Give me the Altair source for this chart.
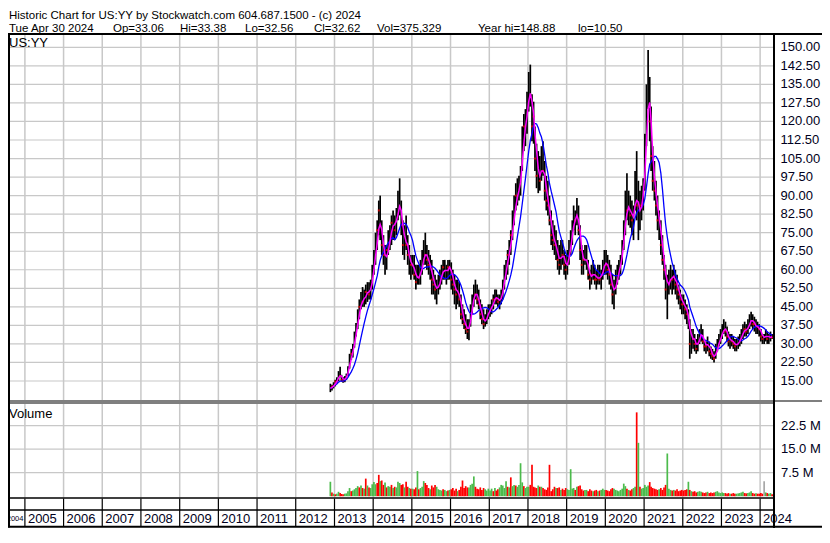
import altair as alt
import pandas as pd

# ---------------- data ----------------
# semi-monthly bars: (high, low, close)
P2012 = [(13.9, 10.5, 12.0), (13.5, 11.2, 12.8), (14.5, 12.0, 13.8)]
P2013 = [(15.5, 12.8, 14.8), (16.5, 14.0, 15.5), (19.0, 15.0, 18.5), (20.8, 16.5, 17.0),
         (17.5, 14.8, 15.5), (16.5, 14.3, 15.0), (17.0, 14.5, 16.5), (18.0, 15.5, 17.5),
         (21.0, 17.0, 20.5), (26.0, 20.0, 25.0), (28.0, 23.5, 26.0), (30.0, 24.5, 29.0),
         (35.0, 28.5, 34.0), (38.5, 33.0, 37.5), (44.0, 36.0, 42.0), (48.0, 40.0, 45.0),
         (51.0, 44.0, 49.0), (53.0, 45.0, 47.0), (52.0, 45.0, 49.0), (54.0, 46.0, 51.0),
         (55.0, 47.0, 52.0), (55.0, 48.0, 50.0), (56.0, 48.0, 54.0), (62.0, 52.0, 60.0)]
P2014 = [(68, 58, 66), (75, 62, 70), (80, 68, 76), (88, 74, 84), (90, 72, 75), (80, 66, 70),
         (74, 62, 66), (70, 58, 62), (70, 60, 68), (76, 66, 72), (78, 68, 74), (82, 70, 79),
         (84, 72, 80), (82, 72, 76), (85, 74, 83), (92, 80, 88), (97, 82, 86), (88, 74, 78),
         (80, 66, 70), (78, 64, 74), (82, 68, 70), (74, 62, 66), (70, 58, 62), (66, 56, 62)]
P2015 = [(66, 58, 62), (66, 56, 58), (62, 52, 55), (62, 54, 58), (62, 54, 57), (64, 54, 60),
         (68, 58, 64), (72, 62, 68), (75, 62, 66), (70, 60, 64), (68, 58, 62), (66, 56, 60),
         (64, 50, 56), (60, 50, 54), (58, 48, 52), (56, 46, 52), (58, 50, 55), (60, 52, 56),
         (62, 54, 60), (64, 56, 61), (64, 56, 58), (62, 54, 60), (64, 56, 61), (64, 56, 62)]
P2016 = [(63, 52, 56), (60, 50, 54), (58, 46, 52), (56, 44, 50), (56, 46, 52), (55, 45, 48),
         (50, 40, 42), (46, 38, 40), (44, 36, 38), (42, 34, 36), (40, 32, 35), (40, 31.5, 38),
         (46, 37, 44), (50, 42, 48), (54, 45, 52), (56, 48, 50), (54, 46, 48), (52, 44, 46),
         (48, 40, 42), (46, 38, 40), (44, 36, 38), (42, 37, 40), (44, 38, 42), (46, 40, 44)]
P2017 = [(46, 41, 44), (48, 42, 46), (50, 44, 48), (52, 46, 50), (52, 46, 48), (50, 45, 47),
         (50, 44, 48), (52, 46, 50), (56, 48, 54), (62, 52, 60), (64, 56, 62), (68, 58, 66),
         (72, 62, 70), (76, 66, 74), (84, 72, 80), (90, 78, 86), (95, 84, 90), (97, 86, 92),
         (98, 88, 94), (102, 90, 100), (118, 100, 115), (123, 108, 118), (125, 110, 120), (132, 115, 128)]
P2018 = [(140, 124, 136), (143, 126, 130), (131, 112, 118), (128, 111, 122), (118, 100, 105), (111, 93, 98),
         (108, 91, 100), (106, 92, 96), (110, 96, 104), (112, 98, 100), (104, 88, 92), (98, 84, 88),
         (96, 82, 86), (90, 78, 80), (84, 70, 74), (80, 68, 72), (78, 66, 70), (76, 64, 68),
         (72, 60, 64), (70, 58, 62), (72, 60, 68), (72, 62, 66), (68, 58, 62), (66, 56, 60)]
P2019 = [(68, 58, 64), (72, 62, 70), (76, 66, 72), (80, 70, 78), (86, 76, 82), (84, 74, 80),
         (89, 78, 84), (86, 74, 76), (78, 64, 68), (70, 58, 62), (68, 58, 64), (70, 62, 66),
         (70, 60, 62), (64, 56, 58), (60, 52, 56), (62, 54, 58), (64, 56, 60), (62, 54, 56),
         (60, 52, 56), (62, 54, 58), (62, 54, 56), (60, 52, 58), (64, 56, 62), (68, 58, 64)]
P2020 = [(68, 58, 62), (66, 56, 60), (64, 54, 58), (62, 52, 54), (58, 46, 50), (56, 44, 52),
         (60, 50, 56), (62, 54, 58), (64, 56, 62), (66, 58, 64), (72, 62, 70), (80, 68, 78),
         (92, 74, 86), (99, 80, 84), (92, 78, 86), (90, 77, 82), (88, 74, 80), (86, 72, 82),
         (100, 84, 96), (108, 80, 86), (96, 72, 80), (92, 76, 86), (94, 80, 90), (97, 84, 94)]
P2021 = [(115, 92, 112), (135, 110, 128), (148.88, 125, 135), (138, 112, 120), (126, 100, 106), (110, 92, 96),
         (104, 88, 92), (96, 82, 86), (90, 76, 80), (84, 72, 78), (80, 66, 70), (74, 62, 64),
         (66, 56, 60), (62, 48, 52), (58, 40, 54), (60, 50, 56), (62, 52, 58), (60, 50, 56),
         (62, 52, 58), (60, 50, 54), (58, 48, 52), (54, 46, 50), (52, 44, 48), (50, 42, 46)]
P2022 = [(50, 42, 46), (48, 40, 44), (46, 38, 42), (44, 36, 38), (40, 24, 30), (36, 26, 34),
         (36, 28, 32), (34, 27, 30), (32, 26, 28), (34, 27, 32), (36, 30, 34), (38, 31, 35),
         (36, 30, 31), (32, 27, 29), (31, 26, 29), (33, 27, 31), (31, 25, 27), (29, 24, 26),
         (28, 23.5, 25), (27, 22.5, 24), (30, 24, 28), (32, 27, 30), (34, 29, 32), (36, 30, 33)]
P2023 = [(38, 32, 36), (40, 34, 37), (39, 33, 35), (37, 31, 33), (35, 29, 31), (34, 28, 32),
         (34, 29, 31), (33, 28, 30), (32, 27, 29), (32, 27, 30), (33, 28, 31), (34, 29, 32),
         (36, 30, 34), (38, 32, 36), (39, 33, 36), (38, 33, 35), (40, 34, 38), (42, 36, 40),
         (43, 37, 40), (42, 36, 38), (41, 35, 38), (40, 34, 36), (39, 34, 37), (38, 33, 36)]
P2024 = [(36, 31, 33), (34, 30, 32), (34, 30, 33), (36, 31, 34), (35, 30, 32), (34, 30, 33),
         (35, 31, 33), (34, 32, 32.6)]

# semi-monthly volume (millions) and bar colour code (G up, R down, N unchanged)
V2012 = [4.6, 1.2, 0.8]
V2013 = [0.6, 0.8, 1.4, 1.0, 0.7, 0.6, 0.8, 0.9, 1.6, 2.6, 1.6, 1.8,
         2.2, 2.6, 3.2, 2.8, 3.4, 2.6, 2.4, 5.6, 3.4, 2.8, 2.6, 3.8]
V2014 = [4.5, 3.8, 4.2, 6.8, 4.8, 5.0, 3.6, 4.4, 2.8, 3.2, 3.0, 3.6,
         2.6, 3.0, 2.8, 4.6, 4.2, 3.6, 3.8, 2.8, 4.6, 3.0, 2.6, 2.4]
V2015 = [2.4, 2.2, 2.8, 8.0, 2.2, 2.6, 3.0, 4.8, 4.2, 3.6, 2.6, 2.2,
         3.4, 2.8, 3.6, 3.0, 2.2, 2.0, 1.8, 2.2, 2.0, 1.6, 1.8, 2.0]
V2016 = [2.2, 2.6, 1.8, 2.4, 1.6, 2.0, 3.0, 5.0, 2.6, 3.2, 2.8, 2.8,
         3.6, 4.0, 6.3, 3.0, 2.4, 2.2, 2.8, 2.0, 2.6, 2.2, 1.8, 2.4]
V2017 = [1.8, 2.4, 1.6, 2.6, 1.8, 2.2, 2.8, 3.6, 3.4, 2.6, 4.8, 3.0,
         2.8, 6.0, 3.2, 3.6, 3.4, 3.0, 3.6, 10.5, 4.4, 3.2, 2.6, 3.0]
V2018 = [3.0, 3.6, 10.0, 3.0, 2.8, 2.6, 3.4, 3.0, 3.0, 2.6, 2.2, 2.0,
         2.8, 10.0, 1.6, 2.2, 3.0, 2.6, 2.6, 2.8, 2.0, 2.4, 2.0, 2.6]
V2019 = [2.2, 2.0, 8.6, 2.4, 2.6, 2.0, 3.0, 3.2, 3.4, 2.2, 1.8, 2.0,
         2.0, 1.6, 2.2, 1.8, 1.6, 1.8, 2.0, 1.6, 1.8, 2.0, 2.4, 2.0]
V2020 = [2.0, 1.8, 1.6, 2.2, 2.6, 2.4, 2.0, 1.8, 1.6, 2.0, 2.4, 4.0,
         3.2, 2.4, 2.0, 1.8, 2.2, 2.6, 3.0, 26.7, 17.0, 3.0, 2.4, 2.6]
V2021 = [3.6, 3.0, 3.4, 4.5, 3.0, 2.6, 2.4, 2.2, 2.0, 2.2, 2.6, 2.0,
         2.8, 3.6, 13.6, 2.4, 2.0, 1.8, 2.0, 1.8, 2.2, 1.6, 1.8, 2.0]
V2022 = [1.8, 2.0, 2.2, 4.6, 2.0, 1.6, 1.4, 1.6, 1.2, 1.4, 1.6, 1.4,
         1.2, 1.0, 1.2, 1.4, 1.0, 1.2, 1.0, 1.2, 1.4, 1.6, 1.2, 1.0]
V2023 = [1.2, 1.0, 1.0, 0.8, 1.0, 0.8, 0.8, 1.0, 0.8, 0.8, 0.9, 1.0,
         1.2, 1.4, 1.0, 0.9, 1.0, 1.2, 1.6, 1.0, 0.8, 0.9, 0.8, 0.8]
V2024 = [1.0, 0.8, 4.8, 1.2, 1.0, 0.8, 1.0, 0.6]

D2012 = "GRG"
D2013 = "RGGRRRGGGGRGGGGRGRGRGRGG"
D2014 = "GGRRGRRGRGGRGRGGGRRGRRGR"
D2015 = "GRRGRGGGRRRGRRRGGGGRGGRG"
D2016 = "RRRRGRRRRRRGGGGRRRRRRGGG"
D2017 = "GGRGRRGGGGGRGRGGRGGGGRGG"
D2018 = "GRRRRRGRGRRRRRRRRGRRGRRR"
D2019 = "GGGGGRGRRRRGGRRRGRRGRGGG"
D2020 = "RRRRRGGGGGGGGRGRRGGRGRGG"
D2021 = "GGGRRRRRRGRRRRGGGRGRRRRR"
D2022 = "RRRGRGRRRGGGRRRGRRRRGGGG"
D2023 = "GGRRRGRRRGGGGGRRGGGRRGRR"
D2024 = "RRNGRGGR"

PRICE_TICKS = [15.0, 22.5, 30.0, 37.5, 45.0, 52.5, 60.0, 67.5, 75.0, 82.5, 90.0,
               97.5, 105.0, 112.5, 120.0, 127.5, 135.0, 142.5, 150.0]
VOL_TICKS = [7.5, 15.0, 22.5]
YEARS = list(range(2005, 2025))

HEADER1 = "Historic Chart for US:YY by Stockwatch.com 604.687.1500 - (c) 2024"
HEADER2 = ["Tue Apr 30 2024", "Op=33.06", "Hi=33.38", "Lo=32.56", "Cl=32.62",
           "Vol=375,329", "Year hi=148.88", "lo=10.50"]

# ---------------- assemble table ----------------
P = P2012 + P2013 + P2014 + P2015 + P2016 + P2017 + P2018 + P2019 + P2020 + P2021 + P2022 + P2023 + P2024
V = V2012 + V2013 + V2014 + V2015 + V2016 + V2017 + V2018 + V2019 + V2020 + V2021 + V2022 + V2023 + V2024
D = list(D2012 + D2013 + D2014 + D2015 + D2016 + D2017 + D2018 + D2019 + D2020 + D2021 + D2022 + D2023 + D2024)

DATES = []
for yy in range(2012, 2025):
    for mm in range(1, 13):
        for dd in (8, 23):
            if (yy, mm, dd) < (2012, 11, 23) or (yy, mm) > (2024, 4):
                continue
            DATES.append(f"{yy}-{mm:02d}-{dd:02d}")
assert len(P) == len(V) == len(D) == len(DATES), (len(P), len(V), len(D), len(DATES))

df = pd.DataFrame({
    "date": DATES,
    "hi": [p[0] for p in P],
    "lo": [p[1] for p in P],
    "cl": [p[2] for p in P],
    "vol": V,
    "dir": D,
})

# ---------------- layout: page pixels -> svg pixels (svg sits at page 8,8) ----------------
W, H = 814, 520
FONT = "Liberation Sans"


def sx(x):
    return x - 8


def sy(y):
    return y - 8


X2013, PX_YEAR = 334.5, 38.7


def page_x_ms(x):
    t = (x - X2013) / PX_YEAR
    return int((pd.Timestamp("2013-01-01") + pd.Timedelta(days=t * 365.25)).value // 10**6)


xscale = alt.Scale(domain=[page_x_ms(8), page_x_ms(8 + W)], nice=False)
X = alt.X("date:T", scale=xscale, axis=None)

# price scale: 150 at y=47.3, 15 at y=381 (page pixels)
kp = (381.0 - 47.3) / 135.0
pb = 150 + sy(47.3) / kp
pa = pb - H / kp
pscale = alt.Scale(domain=[pa, pb], nice=False, zero=False)

# volume panel: page 403..498, zero line at 496.2, 7.5M per 23.55 px
kv = 23.55 / 7.5
vb = sy(496.2) / kv
va = vb - H / kv
vscale = alt.Scale(domain=[va, vb], nice=False, zero=False)

base = alt.Chart(df)

GRID = "#c8c8c8"
INK = "#000020"
years_df = pd.DataFrame({"date": [f"{y}-01-01" for y in YEARS], "label": [str(y) for y in YEARS]})

vgrid_price = alt.Chart(years_df).mark_rule(color=GRID, strokeWidth=1.5).encode(
    x=X, y=alt.value(sy(35)), y2=alt.value(sy(400)))
vgrid_vol = alt.Chart(years_df).mark_rule(color=GRID, strokeWidth=1.5).encode(
    x=X, y=alt.value(sy(404)), y2=alt.value(sy(497.5)))
axis_sep = alt.Chart(years_df).mark_rule(color="black", strokeWidth=1.2).encode(
    x=X, y=alt.value(sy(498.5)), y2=alt.value(sy(526)))
year_labels = alt.Chart(years_df).mark_text(
    align="left", baseline="middle", dx=3, font=FONT, fontSize=13, color=INK).encode(
    x=X, y=alt.value(sy(519)), text="label:N")
label_2004 = alt.Chart(pd.DataFrame({"date": ["2005-01-01"], "label": ["2004"]})).mark_text(
    align="right", baseline="middle", dx=-1.5, font=FONT, fontSize=7.5, color=INK).encode(
    x=X, y=alt.value(sy(519)), text="label:N")

pt_df = pd.DataFrame({"p": PRICE_TICKS})
hgrid_price = alt.Chart(pt_df).mark_rule(color=GRID, strokeWidth=1.2).encode(
    y=alt.Y("p:Q", scale=pscale, axis=None), x=alt.value(0), x2=alt.value(sx(773)))
price_labels = alt.Chart(pt_df).mark_text(
    align="left", baseline="middle", font=FONT, fontSize=13, color=INK).encode(
    y=alt.Y("p:Q", scale=pscale, axis=None), x=alt.value(sx(780.5)),
    text=alt.Text("p:Q", format=".2f"))

vt_df = pd.DataFrame({"v": VOL_TICKS})
hgrid_vol = alt.Chart(vt_df).mark_rule(color=GRID, strokeWidth=1.2).encode(
    y=alt.Y("v:Q", scale=vscale, axis=None), x=alt.value(0), x2=alt.value(sx(773)))
vol_labels = alt.Chart(vt_df).transform_calculate(
    lbl="format(datum.v, '.1f') + ' M'").mark_text(
    align="left", baseline="middle", font=FONT, fontSize=13, color=INK).encode(
    y=alt.Y("v:Q", scale=vscale, axis=None), x=alt.value(sx(781)), text="lbl:N")

bars = base.mark_rule(color="black", strokeWidth=1.7).encode(
    x=X, y=alt.Y("lo:Q", scale=pscale, axis=None), y2="hi:Q")
red_ticks = base.transform_filter("datum.dir == 'R'").mark_tick(
    color="red", thickness=2, size=2, orient="horizontal").encode(
    x=X, y=alt.Y("cl:Q", scale=pscale, axis=None))
ma = base.transform_window(
    fast="mean(cl)", frame=[-2, 0], sort=[{"field": "date"}]).transform_window(
    slow="mean(cl)", frame=[-9, 0], sort=[{"field": "date"}])
ma_slow = ma.mark_line(color="#0000ff", strokeWidth=1.3).encode(
    x=X, y=alt.Y("slow:Q", scale=pscale, axis=None))
ma_fast = ma.mark_line(color="#ff00ff", strokeWidth=1.5).encode(
    x=X, y=alt.Y("fast:Q", scale=pscale, axis=None))

vol_bars = base.mark_rule(strokeWidth=1.7).encode(
    x=X, y=alt.Y("vol:Q", scale=vscale, axis=None), y2=alt.datum(0),
    color=alt.Color("dir:N", scale=alt.Scale(domain=["G", "R", "N"],
                                             range=["#4cbb4c", "#ff0000", "#a8a8a8"]), legend=None))

# frame lines (svg pixels)
R = sx(774)
frame_df = pd.DataFrame({
    "x1": [0, 0, 0, 0, 0, 0, R, 1],
    "x2": [W, W, R, R, R, W, R, 1],
    "y1": [sy(34), sy(401), sy(403), sy(498), sy(510), sy(526.8), sy(33), sy(33)],
    "y2": [sy(34), sy(401), sy(403), sy(498), sy(510), sy(526.8), H, sy(527.5)],
    "w": [2, 1.2, 1.2, 1.5, 1.5, 2, 2, 2],
})
frame = alt.Chart(frame_df).mark_rule(color="black").encode(
    x=alt.X("x1:Q", scale=None), x2="x2:Q",
    y=alt.Y("y1:Q", scale=None), y2="y2:Q",
    strokeWidth=alt.StrokeWidth("w:Q", scale=None))

head_df = pd.DataFrame({
    "x": [sx(9), sx(9), sx(113), sx(180), sx(245), sx(314), sx(377), sx(478), sx(578)],
    "y": [sy(18.8)] + [sy(31.5)] * 8,
    "t": [HEADER1] + HEADER2,
})
head = alt.Chart(head_df).mark_text(
    align="left", baseline="alphabetic", font=FONT, fontSize=11.5, color="black").encode(
    x=alt.X("x:Q", scale=None), y=alt.Y("y:Q", scale=None), text="t:N")

panel_df = pd.DataFrame({"x": [sx(9), sx(9)], "y": [sy(47), sy(418)], "t": ["US:YY", "Volume"]})
panel_titles = alt.Chart(panel_df).mark_text(
    align="left", baseline="alphabetic", font=FONT, fontSize=13, color="black").encode(
    x=alt.X("x:Q", scale=None), y=alt.Y("y:Q", scale=None), text="t:N")

chart = alt.layer(
    vgrid_price, vgrid_vol, hgrid_price, hgrid_vol,
    vol_bars, bars, red_ticks, ma_slow, ma_fast,
    axis_sep, year_labels, label_2004, price_labels, vol_labels,
    frame, head, panel_titles,
).resolve_scale(y="independent", x="independent", color="independent").properties(
    width=W, height=H, autosize="none", padding=0, background="white"
).configure_view(stroke=None)

chart.save("out.html", embed_options={"renderer": "svg", "actions": False})
